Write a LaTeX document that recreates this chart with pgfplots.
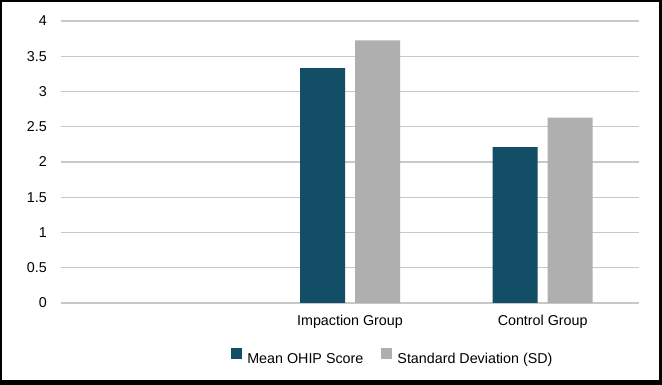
\documentclass[border=0pt]{standalone}
\usepackage{fontspec}
\setmainfont{Liberation Sans}
\usepackage{pgfplots}
\pgfplotsset{compat=1.18}
\definecolor{tealbar}{HTML}{124F66}
\definecolor{graybar}{HTML}{AFAFAF}
\definecolor{gridc}{HTML}{C8C8C8}
\begin{document}
\begin{tikzpicture}
\fill[black] (0,0) rectangle (662bp,385bp);
\fill[white] (2bp,5bp) rectangle (659bp,383bp);
\begin{axis}[
  at={(61bp,82bp)}, anchor=south west,
  scale only axis, width=578bp, height=282bp,
  ybar=10bp, bar width=45bp,
  xmin=-0.5, xmax=2.5, ymin=0, ymax=4,
  xtick={0,1,2}, xticklabels={{},Impaction Group,Control Group},
  ytick={0,0.5,1,1.5,2,2.5,3,3.5,4},
  yticklabels={0,0.5,1,1.5,2,2.5,3,3.5,4},
  axis x line*=bottom, axis y line*=left,
  x axis line style={draw=gridc, line width=1.2bp, -},
  y axis line style={draw=none, -},
  ymajorgrids, grid style={draw=gridc, line width=1.2bp},
  major tick length=0pt,
  tick style={draw=none},
  /pgf/number format/assume math mode=true,
  ticklabel style={font=\fontsize{14.3bp}{17bp}\selectfont, inner sep=0pt},
  yticklabel style={anchor=east, xshift=-14bp},
  xticklabel style={anchor=base, yshift=-23bp},
  legend style={at={(0.294,-0.19)}, anchor=west, draw=none, fill=none,
    inner sep=0pt, outer sep=0pt, legend columns=2,
    font=\fontsize{14.3bp}{17bp}\selectfont,
    nodes={inner sep=0pt},
    /tikz/every odd column/.append style={column sep=5.4bp},
    /tikz/every even column/.append style={column sep=17.7bp}},
  legend image code/.code={\fill[#1,draw=none] (0bp,-0.6bp) rectangle (11bp,10.4bp);},
]
\addplot[fill=tealbar, draw=none] coordinates {(1,3.33) (2,2.21)};
\addplot[fill=graybar, draw=none] coordinates {(1,3.725) (2,2.63)};
\legend{Mean OHIP Score, Standard Deviation (SD)}
\end{axis}
\end{tikzpicture}
\end{document}
